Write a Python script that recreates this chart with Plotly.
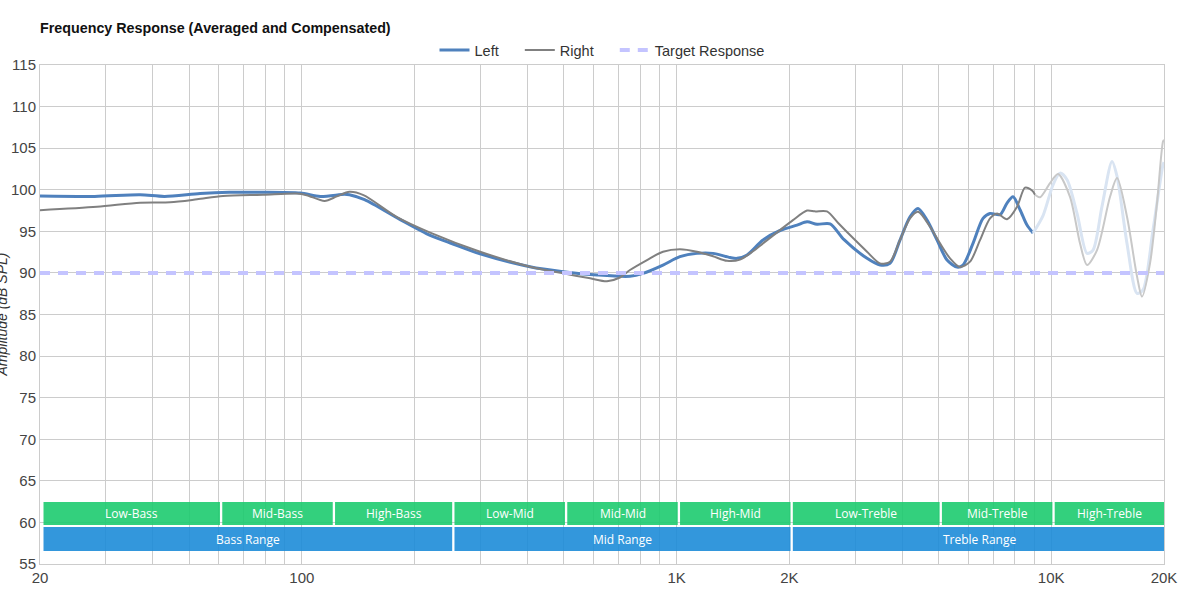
import math
import plotly.graph_objects as go

# ---------------- data ----------------
left_f = [20, 28, 37, 43, 53.5, 64, 77, 99, 112, 130, 134, 147, 183, 220, 249, 299, 406, 498, 613,
          751, 814, 920, 1021, 1134, 1251, 1389, 1450, 1542, 1701, 1889, 2097, 2230, 2372, 2568,
          2800, 3224, 3492, 3712, 3948, 4199, 4410, 4662, 4958, 5272, 5606, 5816, 6184, 6576,
          6866, 7302, 7622, 7908, 8256, 8618, 8942]
left_db = [99.25, 99.2, 99.4, 99.2, 99.55, 99.7, 99.7, 99.6, 99.2, 99.45, 99.4, 98.8, 96.4, 94.5,
           93.6, 92.3, 90.75, 90.15, 89.75, 89.6, 89.95, 90.95, 91.95, 92.35, 92.35, 91.85, 91.75,
           92.15, 93.95, 95.1, 95.75, 96.15, 95.85, 95.9, 94.0, 91.75, 90.95, 91.15, 93.95, 96.75,
           97.75, 96.35, 93.95, 91.55, 90.7, 90.95, 93.55, 96.55, 97.15, 97.0, 98.4, 99.15, 97.6,
           95.75, 94.8]

left_tail_f = [8942, 9510, 10112, 10556, 11020, 11720, 12462, 12930, 13664, 14532, 14986, 15932,
               16948, 17580, 18694, 19876, 20000]
left_tail_db = [94.8, 96.9, 100.6, 102.0, 101.2, 97.15, 92.35, 92.75, 98.0, 103.4, 101.6, 93.55,
                87.55, 87.95, 95.15, 103.0, 103.3]

right_f = [20, 28.4, 37, 44.5, 52.5, 61.6, 78.8, 97, 103, 115, 124, 134, 146, 179, 220, 299, 406,
           498, 588, 652, 706, 751, 834, 920, 1021, 1134, 1251, 1364, 1477, 1600, 1701, 1889, 2045,
           2230, 2342, 2520, 2700, 2904, 3224, 3492, 3712, 3948, 4199, 4410, 4748, 5050, 5370,
           5710, 6072, 6456, 6866, 7168, 7622, 8106, 8512, 8888, 9054]
right_db = [97.55, 97.95, 98.45, 98.5, 98.85, 99.25, 99.4, 99.55, 99.35, 98.65, 99.2, 99.75, 99.35,
            96.75, 94.85, 92.55, 90.75, 89.95, 89.35, 89.0, 89.45, 90.35, 91.55, 92.55, 92.85,
            92.55, 92.0, 91.45, 91.6, 92.6, 93.55, 95.15, 96.35, 97.5, 97.4, 97.4, 96.0, 94.55,
            92.55, 91.15, 91.35, 93.95, 96.55, 97.35, 95.55, 93.55, 91.75, 90.7, 91.35, 93.95,
            96.55, 97.15, 96.45, 97.95, 100.25, 99.9, 99.4]

right_tail_f = [9054, 9336, 9928, 10428, 11224, 11938, 12462, 13252, 14354, 14986, 15932, 16948,
                17472, 18354, 19156, 19876, 20000]
right_tail_db = [99.4, 99.1, 100.8, 101.9, 99.15, 93.55, 90.95, 92.75, 99.15, 101.4, 96.75, 89.55,
                 87.15, 91.15, 98.35, 105.8, 106.0]

target_f = [20, 20000]
target_db = [90, 90]

sub_bands = ["Low-Bass", "Mid-Bass", "High-Bass", "Low-Mid", "Mid-Mid", "High-Mid",
             "Low-Treble", "Mid-Treble", "High-Treble"]
sub_edges = [20, 60, 120, 250, 500, 1000, 2000, 5000, 10000, 20000]
ranges = ["Bass Range", "Mid Range", "Treble Range"]
range_edges = [20, 250, 2000, 20000]

grid_f = [20, 30, 40, 50, 60, 70, 80, 90, 100, 200, 300, 400, 500, 600, 700, 800, 900,
          1000, 2000, 3000, 4000, 5000, 6000, 7000, 8000, 9000, 10000, 20000]
label_map = {20: "20", 100: "100", 1000: "1K", 2000: "2K", 10000: "10K", 20000: "20K"}
grid_text = [label_map.get(v, "") for v in grid_f]

# ---------------- styles ----------------
BLUE = "#4f81bd"
GRAY = "#808080"
FONT = "Liberation Sans, Arial, sans-serif"
FS = 14
W, H = 1196, 596
ML, MR, MT, MB = 40, 32, 65, 32
PW = W - ML - MR
DEC_PX = PW / 3.0  # pixels per decade
PAD = "\u00a0" * 4

fig = go.Figure()

fig.add_trace(go.Scatter(x=left_f, y=left_db, name="Left" + PAD, mode="lines",
                         line=dict(color=BLUE, width=3, shape="spline", smoothing=0.8)))
fig.add_trace(go.Scatter(x=right_f, y=right_db, name="Right" + PAD, mode="lines",
                         line=dict(color=GRAY, width=2, shape="spline", smoothing=0.8)))
fig.add_trace(go.Scatter(x=left_tail_f, y=left_tail_db, mode="lines", showlegend=False,
                         hoverinfo="skip",
                         line=dict(color="#d9e4f2", width=3, shape="spline", smoothing=0.8)))
fig.add_trace(go.Scatter(x=right_tail_f, y=right_tail_db, mode="lines", showlegend=False,
                         hoverinfo="skip",
                         line=dict(color="#c8c8c8", width=2, shape="spline", smoothing=0.8)))
fig.add_trace(go.Scatter(x=target_f, y=target_db, name="Target Response", mode="lines",
                         line=dict(color="#c4c4ff", width=4, dash="10px,8px")))

# ---------------- frequency bands ----------------
k0 = 10 ** (3.5 / DEC_PX)
k1 = 10 ** (1.2 / DEC_PX)


def add_band(f0, f1, y0, y1, color, label):
    a, b = f0 * k0, f1 * k1
    fig.add_shape(type="rect", xref="x", yref="y", x0=a, x1=b, y0=y0, y1=y1,
                  fillcolor=color, opacity=0.9, line=dict(width=0), layer="above")
    fig.add_annotation(x=(math.log10(a) + math.log10(b)) / 2, y=(y0 + y1) / 2,
                       xref="x", yref="y", text=label, showarrow=False,
                       font=dict(family="Open Sans, sans-serif", size=12, color="white"))


for i, name in enumerate(sub_bands):
    add_band(sub_edges[i], sub_edges[i + 1], 59.69, 62.46, "#1dcb6f", name)
for i, name in enumerate(ranges):
    add_band(range_edges[i], range_edges[i + 1], 56.56, 59.45, "#1d8cd8", name)

# axis titles (mostly outside the visible window, as in the reference)
fig.add_annotation(xref="paper", yref="paper", x=-(ML - 1) / PW, y=0.5, xanchor="center",
                   yanchor="middle", textangle=-90, text="Amplitude (dB SPL)", showarrow=False,
                   font=dict(family=FONT, size=FS, color="#333333", style="italic"))
fig.add_annotation(xref="paper", yref="paper", x=0.5, y=-(592 - (H - MB)) / (H - MT - MB),
                   xanchor="center", yanchor="top", text="Frequency (Hz)", showarrow=False,
                   font=dict(family=FONT, size=FS, color="#333333", style="italic"))

fig.update_layout(
    width=W, height=H,
    margin=dict(l=ML, r=MR, t=MT, b=MB, autoexpand=False),
    paper_bgcolor="white", plot_bgcolor="white",
    font=dict(family=FONT, size=FS, color="#444444"),
    title=dict(text="<b>Frequency Response (Averaged and Compensated)</b>",
               xref="container", yref="container", x=ML / W, xanchor="left",
               y=1 - 28 / H, yanchor="middle",
               font=dict(family=FONT, size=FS + 0.3, color="#111111")),
    legend=dict(orientation="h", xref="paper", x=0.5, xanchor="center",
                yref="paper", y=1 + 15 / (H - MT - MB), yanchor="middle",
                font=dict(family=FONT, size=FS + 0.5, color="#333333"),
                bgcolor="rgba(0,0,0,0)", itemwidth=30, traceorder="normal"),
    showlegend=True,
)

fig.update_xaxes(type="log", range=[math.log10(20), math.log10(20000)],
                 tickvals=grid_f, ticktext=grid_text, showgrid=True, gridcolor="#cccccc",
                 gridwidth=1, zeroline=False, showline=True, linecolor="#cccccc",
                 mirror=True, ticks="", tickfont=dict(family=FONT, size=FS + 1, color="#444444"),
                 automargin=False)
fig.update_yaxes(range=[55, 115], dtick=5, tick0=55, showgrid=True, gridcolor="#cccccc",
                 gridwidth=1, zeroline=False, showline=True, linecolor="#cccccc",
                 mirror=True, ticks="", tickfont=dict(family=FONT, size=FS + 1, color="#444444"),
                 automargin=False)

fig.write_html("out.html")
